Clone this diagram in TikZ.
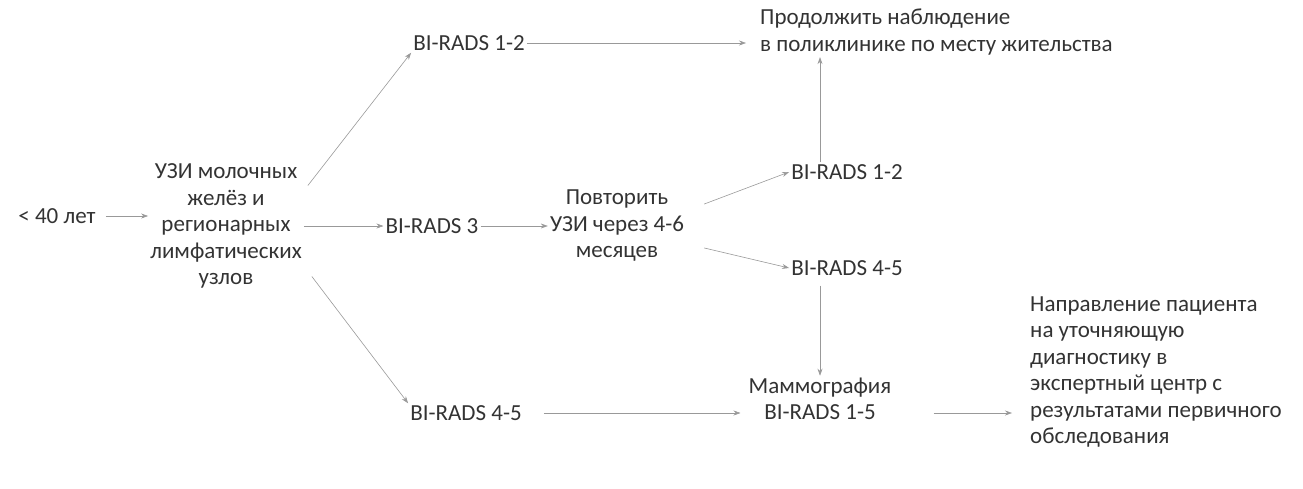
\documentclass[tikz,border=0pt]{standalone}
\usepackage{fontspec}
\setmainfont{Carlito}
\usepackage{tikz}
\usetikzlibrary{arrows.meta, positioning, calc}
\tikzset{%
   % plain text blocks, no frame
   lbl/.style={
      text=black!80,
      inner sep=2pt,
      font=\fontsize{23}{26.5}\selectfont
   },
   lblc/.style={lbl, align=center},
   lbll/.style={lbl, align=left},
   % thin grey connectors
   arr/.style={
      draw=black!40,
      line width=.6pt,
      -{Stealth[length=7pt, width=5pt]}
   },
}

\begin{document}
\begin{tikzpicture}[x=1pt, y=-1pt]
  \useasboundingbox (0,0) rectangle (1303,488);
  \node[lbl]  (age)   at (57,216)   {< 40 лет};
  \node[lblc] (uzi)   at (226,226)  {УЗИ молочных\\желёз и\\регионарных\\лимфатических\\узлов};
  \node[lbl]  (bra)   at (469,43)   {BI-RADS 1-2};
  \node[lbl]  (brt)   at (432,226)  {BI-RADS 3};
  \node[lbl]  (brc)   at (466,413)  {BI-RADS 4-5};
  \node[lblc] (rep)   at (617,226)  {Повторить\\УЗИ через 4-6\\месяцев};
  \node[lbll, anchor=west] (cont) at (758,32)
     {Продолжить наблюдение\\в поликлинике по месту жительства};
  \node[lbl]  (brd)   at (847,172)  {BI-RADS 1-2};
  \node[lbl]  (bre)   at (847,268)  {BI-RADS 4-5};
  \node[lblc] (mam)   at (820,399)  {Маммография\\BI-RADS 1-5};
  \node[lbll, anchor=west] (ref) at (1028,372)
     {Направление пациента\\на уточняющую\\диагностику в\\экспертный центр с\\результатами первичного\\обследования};
  % left part
  \draw[arr, shorten <=8] (age) -- (age -| uzi.west);
  \draw[arr] ([shift={(4,24)}]uzi.north east) -- (bra.south west);
  \draw[arr] (uzi) -- (brt);
  \draw[arr] ([shift={(8,-14)}]uzi.south east) -- (brc.north west);
  \draw[arr, shorten >=12] (bra.east |- bra) -- (bra -| cont.west);
  \draw[arr] (brt) -- (rep);
  \draw[arr, shorten <=20, shorten >=6] (brc) -- (brc -| mam.west);
  % after the repeat
  \draw[arr] ([shift={(18,16)}]rep.north east) -- (brd.west);
  \draw[arr] ([shift={(18,-16)}]rep.south east) -- (bre.west);
  \draw[arr] (mam.north |- brd.north) -- (mam.north |- cont.south);
  \draw[arr, shorten <=8] (mam.north |- bre.south) -- (mam.north);
  \draw[arr, shorten <=40, shorten >=16] (brc -| mam.east) -- (brc -| ref.west);
\end{tikzpicture}
\end{document}
